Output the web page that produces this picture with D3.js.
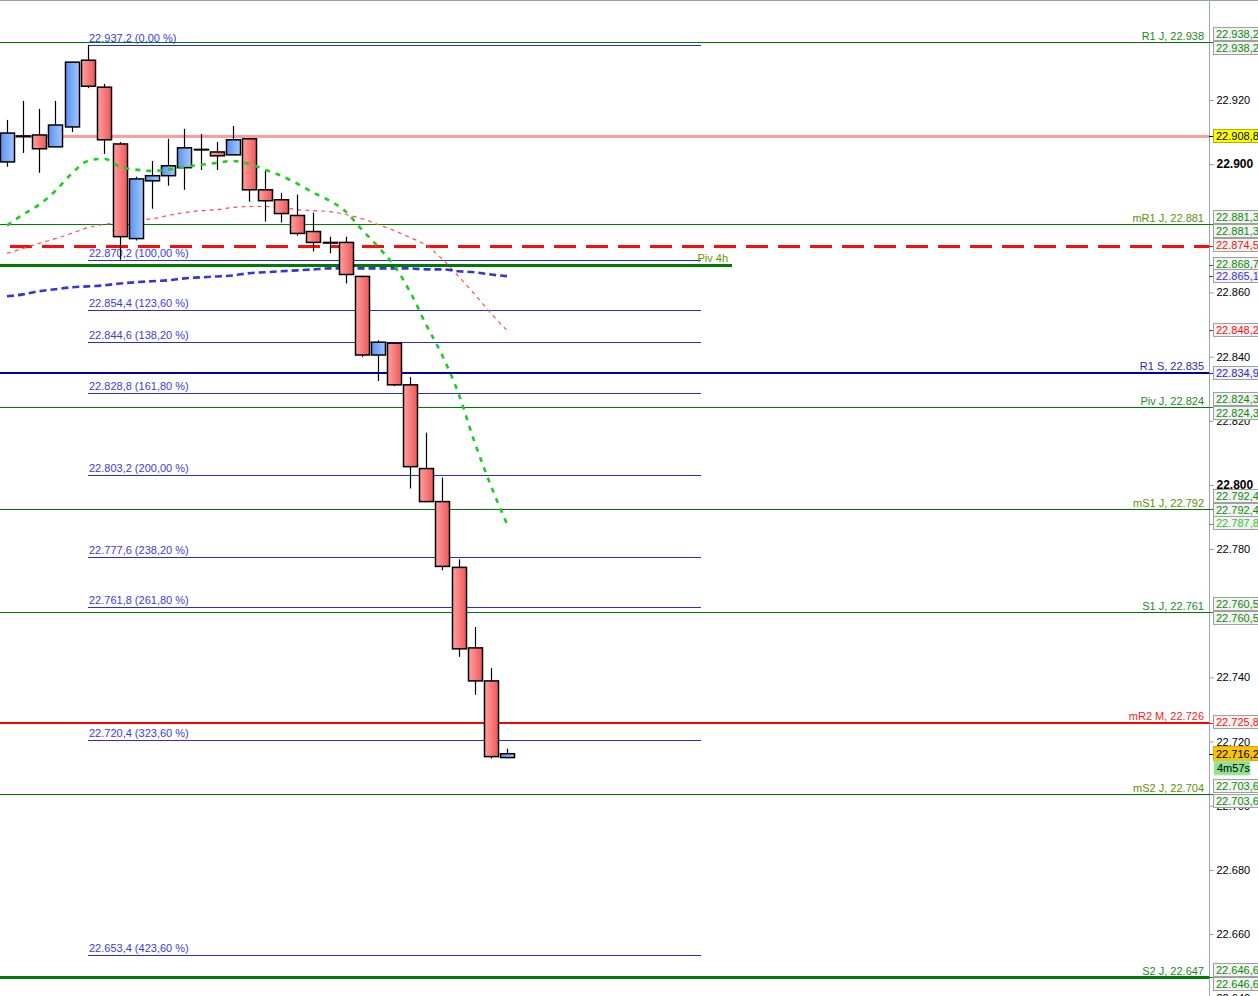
<!DOCTYPE html>
<html><head><meta charset="utf-8">
<script src="https://cdn.jsdelivr.net/npm/d3@7/dist/d3.min.js"></script>
<style>
html,body{margin:0;padding:0;background:#fff;}
svg{display:block;font-family:"Liberation Sans",Arial,sans-serif;}
</style></head>
<body>
<svg id="c" width="1258" height="996"></svg>
<script>
// ---------- DATA ----------
const opens  = [22900.7,22908.8,22909.1,22905.4,22911.6,22932.4,22924.0,22906.3,22876.8,22894.8,22896.4,22898.9,22904.5,22903.8,22902.9,22907.9,22892.0,22888.9,22884.0,22879.0,22875.6,22875.6,22865.0,22840.5,22844.2,22831.2,22805.1,22794.8,22774.3,22749.2,22738.9,22715.0];
const highs  = [22913.8,22919.7,22917.2,22919.7,22931.8,22937.2,22925.0,22906.9,22896.1,22901.0,22907.9,22911.0,22909.4,22906.9,22911.9,22907.9,22897.9,22891.1,22890.5,22884.9,22877.4,22877.4,22865.2,22845.1,22844.2,22833.6,22816.3,22802.3,22776.8,22755.7,22742.9,22717.8];
const lows   = [22899.2,22903.5,22897.3,22905.4,22910.0,22923.7,22903.2,22870.2,22876.2,22886.1,22893.3,22892.0,22898.2,22898.2,22902.9,22888.3,22882.1,22881.8,22877.7,22872.8,22872.2,22862.8,22839.9,22832.4,22830.8,22798.9,22794.8,22773.4,22746.4,22734.6,22714.7,22715.0];
const closes = [22909.7,22908.6,22904.8,22912.2,22931.8,22924.3,22907.6,22877.4,22895.4,22896.4,22899.5,22905.1,22904.6,22902.6,22907.6,22892.0,22888.6,22884.6,22878.4,22875.6,22875.4,22865.6,22840.5,22844.5,22831.2,22805.7,22794.8,22774.6,22748.9,22738.9,22715.3,22716.2];

const maGreen = [22880.9,22884.3,22887.4,22891.7,22897.0,22901.0,22901.7,22899.2,22898.3,22897.9,22898.3,22899.2,22899.8,22900.4,22901.0,22900.1,22898.3,22896.4,22893.9,22891.1,22888.6,22885.2,22879.6,22874.3,22868.4,22860.1,22849.8,22840.2,22828.4,22813.2,22799.8,22787.8];
const maRed   = [22872.2,22873.7,22875.3,22876.8,22878.4,22880.2,22881.2,22881.8,22882.4,22883.0,22884.0,22884.9,22885.5,22885.8,22886.5,22886.8,22886.8,22886.5,22885.8,22885.5,22885.2,22884.3,22883.0,22881.2,22879.3,22877.1,22874.7,22870.3,22865.0,22859.4,22853.5,22848.2];
const maBlue  = [22858.8,22859.4,22860.4,22861.0,22861.6,22861.9,22862.2,22862.8,22863.2,22863.5,22863.8,22864.4,22864.7,22865.0,22865.3,22866.0,22866.3,22866.6,22866.9,22867.2,22867.5,22867.5,22867.5,22867.5,22867.5,22867.5,22867.2,22867.2,22866.6,22866.3,22865.6,22865.1];

const fibPct    = [0, 100, 123.6, 138.2, 161.8, 200, 238.2, 261.8, 323.6, 423.6];
const fibValues = [22937.2,22870.2,22854.4,22844.6,22828.8,22803.2,22777.6,22761.8,22720.4,22653.4];

const levelNames  = ["R1 J","mR1 J","R1 S","Piv J","mS1 J","S1 J","mR2 M","mS2 J","S2 J"];
const levelValues = [22938.2,22881.3,22834.9,22824.3,22792.4,22760.5,22725.8,22703.6,22646.6];

const pivot4hValue = 22868.7;
const pinkValue = 22908.8;
const redDashValue = 22874.5;
const currentPrice = 22716.2;
const countdown = "4m57s";

const tickValues = [22920,22900,22860,22840,22820,22800,22780,22740,22720,22700,22680,22660,22640];
const boldTicks = [22900,22800];

const tagValues = [22938.2,22938.2,22908.8,22881.3,22881.3,22874.5,22868.7,22865.1,22848.2,22834.9,22824.3,22824.3,22792.4,22792.4,22787.8,22760.5,22760.5,22725.8,22703.6,22703.6,22646.6,22646.6];

// ---------- SCALES ----------
const svg = d3.select("#c");
const W = 1258, H = 996, axisX = 1209;
const y = d3.scaleLinear().domain([22920, 22660]).range([100, 934]);
const x = d3.scaleLinear().domain([0, 31]).range([7, 507]);
const py = v => Math.round(y(v)) + 0.5;   // pixel-snapped

const loc = d3.formatLocale({decimal:",", thousands:".", grouping:[3], currency:["",""]});
const f1 = loc.format(",.1f"), f0 = loc.format(",.0f"), f2 = loc.format(",.2f");

// gradients
const defs = svg.append("defs");
function grad(id, a, b){
  const g = defs.append("linearGradient").attr("id", id).attr("x1","0").attr("x2","1").attr("y1","0").attr("y2","0");
  g.append("stop").attr("offset","0").attr("stop-color", a);
  g.append("stop").attr("offset","1").attr("stop-color", b);
}
grad("gRed", "#ffa0a0", "#ee5858");
grad("gBlue", "#5c92f0", "#a2c8ff");

// top border
svg.append("line").attr("x1",0).attr("x2",W).attr("y1",0.5).attr("y2",0.5).attr("stroke","#8fa3b8");

// ---------- HORIZONTAL LEVELS ----------
const levelStyle = {
  "R1 J":  {c:"#007a00", w:1, t:"#1b8a1b"},
  "mR1 J": {c:"#007a00", w:1, t:"#5f8f00"},
  "R1 S":  {c:"#000099", w:2, t:"#2a2ab0"},
  "Piv J": {c:"#007a00", w:1, t:"#1b8a1b"},
  "mS1 J": {c:"#007a00", w:1, t:"#5f8f00"},
  "S1 J":  {c:"#007a00", w:1, t:"#1b8a1b"},
  "mR2 M": {c:"#ff0000", w:2, t:"#ff2020"},
  "mS2 J": {c:"#007a00", w:1, t:"#5f8f00"},
  "S2 J":  {c:"#007a00", w:3, t:"#1b8a1b"}
};

// pink line
svg.append("line").attr("x1",0).attr("x2",axisX).attr("y1",py(pinkValue)).attr("y2",py(pinkValue))
  .attr("stroke","#ff9b9b").attr("stroke-width",3);

// pivot levels
levelNames.forEach((n,i)=>{
  const s = levelStyle[n], yy = s.w===2 ? Math.round(y(levelValues[i])) : py(levelValues[i]);
  svg.append("line").attr("x1",0).attr("x2",axisX).attr("y1",yy).attr("y2",yy)
    .attr("stroke",s.c).attr("stroke-width",s.w);
  svg.append("text").attr("x",1204).attr("y",yy-3).attr("text-anchor","end")
    .attr("font-size",11).attr("fill",s.t).text(n + ", " + f0(levelValues[i]));
});

// fib lines
fibValues.forEach((v,i)=>{
  const yy = py(v);
  svg.append("line").attr("x1",88).attr("x2",701).attr("y1",yy).attr("y2",yy)
    .attr("stroke","#2b2bdc").attr("stroke-width",1);
  svg.append("text").attr("x",89).attr("y",yy-4).attr("font-size",11).attr("fill","#3a3ae0")
    .text(f1(v) + " (" + f2(fibPct[i]) + " %)");
});

// red dashed line
svg.append("line").attr("x1",0).attr("x2",axisX).attr("y1",py(redDashValue)).attr("y2",py(redDashValue))
  .attr("stroke","#ff0a0a").attr("stroke-width",3).attr("stroke-dasharray","22,10").attr("stroke-dashoffset",22);

// pivot 4h
svg.append("line").attr("x1",0).attr("x2",732).attr("y1",py(pivot4hValue)).attr("y2",py(pivot4hValue))
  .attr("stroke","#007a00").attr("stroke-width",3);
svg.append("text").attr("x",728).attr("y",py(pivot4hValue)-4).attr("text-anchor","end")
  .attr("font-size",11).attr("fill","#6f8a00").text("Piv 4h");

// ---------- MOVING AVERAGES ----------
const line = d3.line().x((d,i)=>x(i)).y(d=>y(d)).curve(d3.curveMonotoneX);
svg.append("path").attr("d",line(maRed)).attr("fill","none").attr("stroke","#ff4d4d")
  .attr("stroke-width",1.2).attr("stroke-dasharray","4,4");
svg.append("path").attr("d",line(maBlue)).attr("fill","none").attr("stroke","#3535d8")
  .attr("stroke-width",2.6).attr("stroke-dasharray","7,4");

// ---------- CANDLES ----------
const cw = 14;
const idx = d3.range(opens.length);
const g = svg.append("g");
g.selectAll("line.w").data(idx).join("line").attr("class","w")
  .attr("x1",i=>Math.round(x(i))+0.5).attr("x2",i=>Math.round(x(i))+0.5)
  .attr("y1",i=>y(highs[i])).attr("y2",i=>y(lows[i]))
  .attr("stroke","#000").attr("stroke-width",1.2);
g.selectAll("rect.b").data(idx).join("rect").attr("class","b")
  .attr("x",i=>Math.round(x(i))-cw/2+0.5)
  .attr("width",cw)
  .attr("y",i=>y(Math.max(opens[i],closes[i])))
  .attr("height",i=>Math.max(0.5, Math.abs(y(opens[i])-y(closes[i]))))
  .attr("fill",i=>closes[i]>=opens[i] ? "url(#gBlue)" : "url(#gRed)")
  .attr("stroke","#000").attr("stroke-width",1.5);

// green MA on top
svg.append("path").attr("d",line(maGreen)).attr("fill","none").attr("stroke","#1fcc1f")
  .attr("stroke-width",2.6).attr("stroke-dasharray","5,6");

// ---------- AXIS ----------
svg.append("rect").attr("x",axisX+0.5).attr("y",1).attr("width",W-axisX).attr("height",H).attr("fill","#fff");
svg.append("line").attr("x1",axisX+0.5).attr("x2",axisX+0.5).attr("y1",0).attr("y2",H).attr("stroke","#9aa6b2");
const ax = svg.append("g").attr("transform",`translate(${axisX+0.5},0)`)
  .call(d3.axisRight(y).tickValues(tickValues).tickSize(4).tickPadding(3).tickFormat(f0));
ax.select(".domain").remove();
ax.selectAll(".tick line").attr("stroke","#8a96a2");
ax.selectAll(".tick text").attr("fill","#000")
  .attr("font-family","'Liberation Sans',Arial,sans-serif")
  .attr("font-weight",d=>boldTicks.includes(d)?"bold":"normal")
  .attr("font-size",d=>boldTicks.includes(d)?12:11);

// ---------- AXIS TAGS ----------
const tagColors = ["#0a8a0a","#0a8a0a","#000","#0a8a0a","#0a8a0a","#ff1010","#0a8a0a","#3535d8","#ff1010","#2a2ab8","#0a8a0a","#0a8a0a","#0a8a0a","#0a8a0a","#22cc22","#0a8a0a","#0a8a0a","#ff1010","#0a8a0a","#0a8a0a","#0a8a0a","#0a8a0a"];
const tagShift  = [-7.5,6.5,0,-7,6.5,-1,-1,0,0,0,-8,6,-13,0.5,-1.5,-8,6,-1,-8,6.5,-7,7];
tagValues.forEach((v,i)=>{
  const cy = Math.round(y(v) + tagShift[i]);
  const yellow = (v===pinkValue);
  svg.append("line").attr("x1",axisX).attr("x2",axisX+4).attr("y1",py(v)).attr("y2",py(v)).attr("stroke",tagColors[i]);
  svg.append("rect").attr("x",1213.5).attr("y",cy-6.5).attr("width",52).attr("height",13)
    .attr("fill",yellow?"#ffff00":"#f3f3f3").attr("stroke",yellow?"#b0b000":"#a0a0a0");
  svg.append("text").attr("x",1216).attr("y",cy+4).attr("font-size",11).attr("fill",tagColors[i]).text(f1(v));
});
// current price
const cpY = Math.round(y(currentPrice));
svg.append("line").attr("x1",axisX).attr("x2",axisX+4).attr("y1",cpY+0.5).attr("y2",cpY+0.5).attr("stroke","#000");
svg.append("rect").attr("x",1213.5).attr("y",cpY-7.5).attr("width",52).attr("height",14)
  .attr("fill","#f8c30a").attr("stroke","#d9a400");
svg.append("text").attr("x",1216).attr("y",cpY+4).attr("font-size",11).attr("fill","#000").text(f1(currentPrice));
svg.append("rect").attr("x",1214).attr("y",cpY+7).attr("width",36).attr("height",14)
  .attr("fill","#8fe08f").attr("stroke","#b8ecb8");
svg.append("text").attr("x",1217).attr("y",cpY+18).attr("font-size",11).attr("fill","#000").text(countdown);
</script>
</body></html>
